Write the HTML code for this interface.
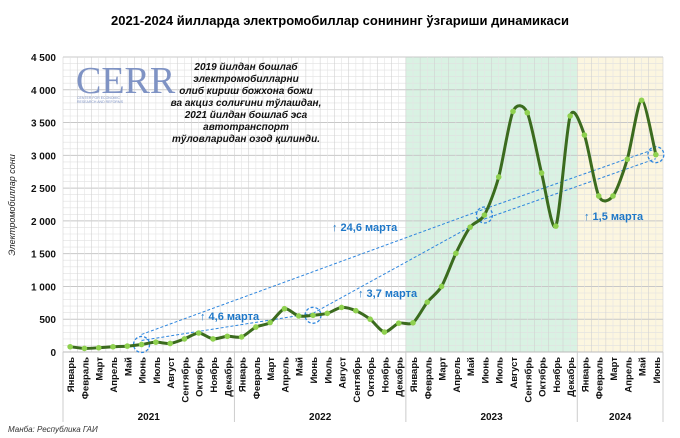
<!DOCTYPE html>
<html><head><meta charset="utf-8"><style>
body{margin:0;background:#fff;}
svg{display:block;font-family:"Liberation Sans",Arial,sans-serif;}
</style></head><body>
<svg id="c" width="680" height="438" viewBox="0 0 680 438" xmlns="http://www.w3.org/2000/svg">
<text x="340" y="25" text-anchor="middle" font-size="13" font-weight="bold" fill="#000">2021-2024 йилларда электромобиллар сонининг ўзгариши динамикаси</text>
<g id="bg"></g><g id="grid"></g><g id="axes"></g><g id="ann"></g><g id="series"></g>
<text x="0" y="0" transform="translate(15,205) rotate(-90)" text-anchor="middle" font-size="9" font-style="italic" fill="#222">Электромобиллар сони</text>
<g>
<text x="76" y="93" font-family="Liberation Serif,serif" font-size="38" fill="#7f93c4">CERR</text>
<text x="77" y="99" font-size="3.5" fill="#7f93c4">CENTER FOR ECONOMIC</text>
<text x="77" y="103" font-size="3.5" fill="#7f93c4">RESEARCH AND REFORMS</text>
</g>
<g font-size="10" font-weight="bold" font-style="italic" fill="#111" text-anchor="middle">
<text x="246" y="70">2019 йилдан бошлаб</text>
<text x="246" y="82">электромобилларни</text>
<text x="246" y="94">олиб кириш божхона божи</text>
<text x="246" y="106">ва акциз солиғини тўлашдан,</text>
<text x="246" y="118">2021 йилдан бошлаб эса</text>
<text x="246" y="130">автотранспорт</text>
<text x="246" y="142">тўловларидан озод қилинди.</text>
</g>
<text x="8" y="432" font-size="8" font-style="italic" fill="#333">Манба: Республика ГАИ</text>
</svg>
<script>
const months=["Январь","Февраль","Март","Апрель","Май","Июнь","Июль","Август","Сентябрь","Октябрь","Ноябрь","Декабрь"];
const years=["2021","2022","2023","2024"];
const values=[80,55,65,80,90,115,150,130,200,290,200,240,
230,380,450,660,550,560,590,680,630,500,305,440,
445,760,1000,1505,1905,2090,2670,3670,3650,2730,1920,3600,
3310,2380,2380,2940,3840,3010];
const yTicks=[0,500,1000,1500,2000,2500,3000,3500,4000,4500];
const yTickLabels=["0","500","1 000","1 500","2 000","2 500","3 000","3 500","4 000","4 500"];
const ratioLabels=["4,6 марта","3,7 марта","24,6 марта","1,5 марта"];
const NS="http://www.w3.org/2000/svg";
const X0=63,X1=663,Y0=352,Y1=57,N=values.length,W=(X1-X0)/N;
const xc=i=>X0+W*(i+0.5), y=v=>Y0-(v/4500)*(Y0-Y1);
function el(t,a,p){const e=document.createElementNS(NS,t);for(const k in a)e.setAttribute(k,a[k]);p.appendChild(e);return e;}
const bg=document.getElementById('bg'),grid=document.getElementById('grid'),axes=document.getElementById('axes'),ann=document.getElementById('ann'),ser=document.getElementById('series');
let r=el('rect',{x:X0+24*W,y:Y1,width:12*W,height:Y0-Y1,fill:'#d9f2e3'},bg);

r=el('rect',{x:X0+36*W,y:Y1,width:6*W,height:Y0-Y1,fill:'#fcf6e0'},bg);

for(let v=0;v<=4500;v+=100){el('line',{x1:X0,x2:X1,y1:y(v),y2:y(v),stroke:v%500==0?'#c8c8c8':'#e0e0e0','stroke-width':v%500==0?1:0.6},grid);}
for(let k=0;k<=N*2;k++){const x=X0+k*W/2;el('line',{x1:x,x2:x,y1:Y1,y2:Y0,stroke:k%2==0?'#d2d2d2':'#e4e4e4','stroke-width':0.6},grid);}
yTicks.forEach((v,i)=>{const t=el('text',{x:X0-7,y:y(v)+4,'text-anchor':'end','font-size':10,'font-weight':'bold',fill:'#111'},axes);t.textContent=yTickLabels[i];
});
el('line',{x1:X0,x2:X1,y1:Y0,y2:Y0,stroke:'#bbb'},axes);
for(let i=0;i<N;i++){const t=el('text',{transform:`translate(${xc(i)+4},357) rotate(-90)`,'text-anchor':'end','font-size':9.5,'font-weight':'bold',fill:'#111'},axes);t.textContent=months[i%12];
}
years.forEach((yr,j)=>{const s=j*12,e=Math.min(N,s+12);el('line',{x1:X0+s*W,x2:X0+s*W,y1:Y0,y2:422,stroke:'#ccc'},axes);
const t=el('text',{x:X0+(s+e)/2*W,y:420,'text-anchor':'middle','font-size':10,'font-weight':'bold',fill:'#111'},axes);t.textContent=yr;
});
el('line',{x1:X1,x2:X1,y1:Y0,y2:422,stroke:'#ccc'},axes);
const P=values.map((v,i)=>[xc(i),y(v)]);let d=`M${P[0][0]},${P[0][1]}`;
const T=7.5;
for(let i=0;i<N-1;i++){const p0=P[Math.max(0,i-1)],p1=P[i],p2=P[i+1],p3=P[Math.min(N-1,i+2)];
d+=` C${p1[0]+(p2[0]-p0[0])/T},${p1[1]+(p2[1]-p0[1])/T} ${p2[0]-(p3[0]-p1[0])/T},${p2[1]-(p3[1]-p1[1])/T} ${p2[0]},${p2[1]}`;}
const ln=el('path',{d:d,fill:'none',stroke:'#3b6b1e','stroke-width':3},ser);

P.forEach(p=>{const c=el('circle',{cx:p[0],cy:p[1],r:2.8,fill:'#8fd14f'},ser);
});
const J=[5,17,29,41];const B='#2e86de';
J.forEach(i=>{const c=el('circle',{cx:P[i][0],cy:P[i][1],r:8,fill:'none',stroke:B,'stroke-width':1.3,'stroke-dasharray':'3,2'},ann);
});
const pairs=[[0,1,-4,-2],[1,2,-2,4],[0,2,-10,-6],[2,3,-6,-6],[2,3,4,4]];
pairs.forEach(q=>{const a=P[J[q[0]]],b=P[J[q[1]]];const l=el('line',{x1:a[0],y1:a[1]+q[2],x2:b[0],y2:b[1]+q[3],stroke:B,'stroke-width':1,'stroke-dasharray':'3,2'},ann);
});
const lp=[[200,320],[358,297],[332,231],[584,220]];
ratioLabels.forEach((s,i)=>{const t=el('text',{x:lp[i][0],y:lp[i][1],'font-size':11,'font-weight':'bold',fill:'#1f78c8'},ann);t.textContent='↑ '+s;
});
</script>
</body></html>
